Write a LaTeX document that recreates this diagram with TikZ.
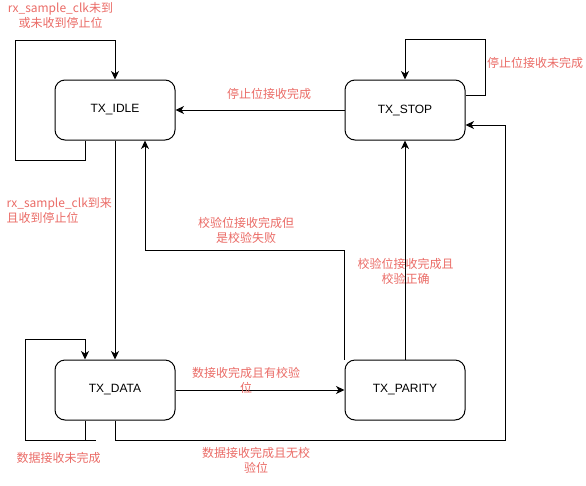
\documentclass[tikz,border=0pt]{standalone}
\usepackage{fontspec}
\setmainfont{Liberation Sans}
\newfontfamily\cjk{Noto Sans CJK SC}
\usetikzlibrary{arrows.meta}
\definecolor{lblred}{RGB}{234,107,102}
\tikzset{
  state/.style={draw, line width=1pt, rounded corners=10pt, minimum width=120pt, minimum height=60pt, inner sep=0pt, font=\fontsize{12}{14}\selectfont},
  conn/.style={line width=1pt},
  arr/.style={conn, -{Stealth[length=8.5pt,width=8pt,inset=2.5pt]}},
  lbl/.style={text=lblred, align=center, inner sep=0pt, font=\cjk\fontsize{12}{15}\selectfont},
}
\begin{document}
\begin{tikzpicture}[x=1pt,y=-1pt]
\useasboundingbox (0,0) rectangle (586,485);
\node[state] (idle) at (115,110) {TX\_IDLE};
\node[state] (stop) at (405,110) {TX\_STOP};
\node[state] (data) at (115,390) {TX\_DATA};
\node[state] (parity) at (405,390) {TX\_PARITY};

% IDLE self-loop
\draw[arr] ([xshift=-30pt]idle.south) -- ++(0,20) -| (15,40) -| (idle.north);
% IDLE -> DATA
\draw[arr] (idle) -- (data);
% STOP -> IDLE
\draw[arr] (stop) -- (idle);
% STOP self-loop
\draw[arr] ([yshift=15pt]stop.east) -- ++(20,0) |- ([yshift=40pt]stop.north) -- (stop.north);
% DATA -> PARITY
\draw[arr] (data) -- (parity);
% PARITY -> STOP
\draw[arr] (parity) -- (stop);
% PARITY -> IDLE (parity fail)
\draw[arr] (parity.north west) |- ([xshift=30pt,yshift=-110pt]idle.south) -- ([xshift=30pt]idle.south);
% DATA -> STOP (no parity)
\draw[arr] (data.south) |- (505,440) |- ([yshift=-15pt]stop.east);
% DATA self-loop
\draw[arr] ([xshift=-30pt]data.south) -- ++(0,20) -- ++(-60,0) |- ([xshift=-30pt,yshift=20pt]data.north) -- ([xshift=-30pt]data.north);
\coordinate (stubA) at ([xshift=-30pt,yshift=-20pt]data.south);
\draw[conn] (stubA) -- ++(11,0);

% labels
\node[lbl] (l1) at (60.5,15.5) {rx\_sample\_clk未到\\或未收到停止位};
\node[lbl, align=left, anchor=west] (l2) at (6.5,210.5) {rx\_sample\_clk到来\\且收到停止位};
\node[lbl] (l3) at (269,94) {停止位接收完成};
\node[lbl] (l4) at (535,63) {停止位接收未完成};
\node[lbl] (l5) at (246,230.5) {校验位接收完成但\\是校验失败};
\node[lbl] (l6) at (405.5,271) {校验位接收完成且\\校验正确};
\node[lbl] (l7) at (246,380.5) {数接收完成且有校验\\位};
\node[lbl] (l8) at (256,460) {数据接收完成且无校\\验位};
\node[lbl] (l9) at (58.5,458) {数据接收未完成};
\end{tikzpicture}
\end{document}
